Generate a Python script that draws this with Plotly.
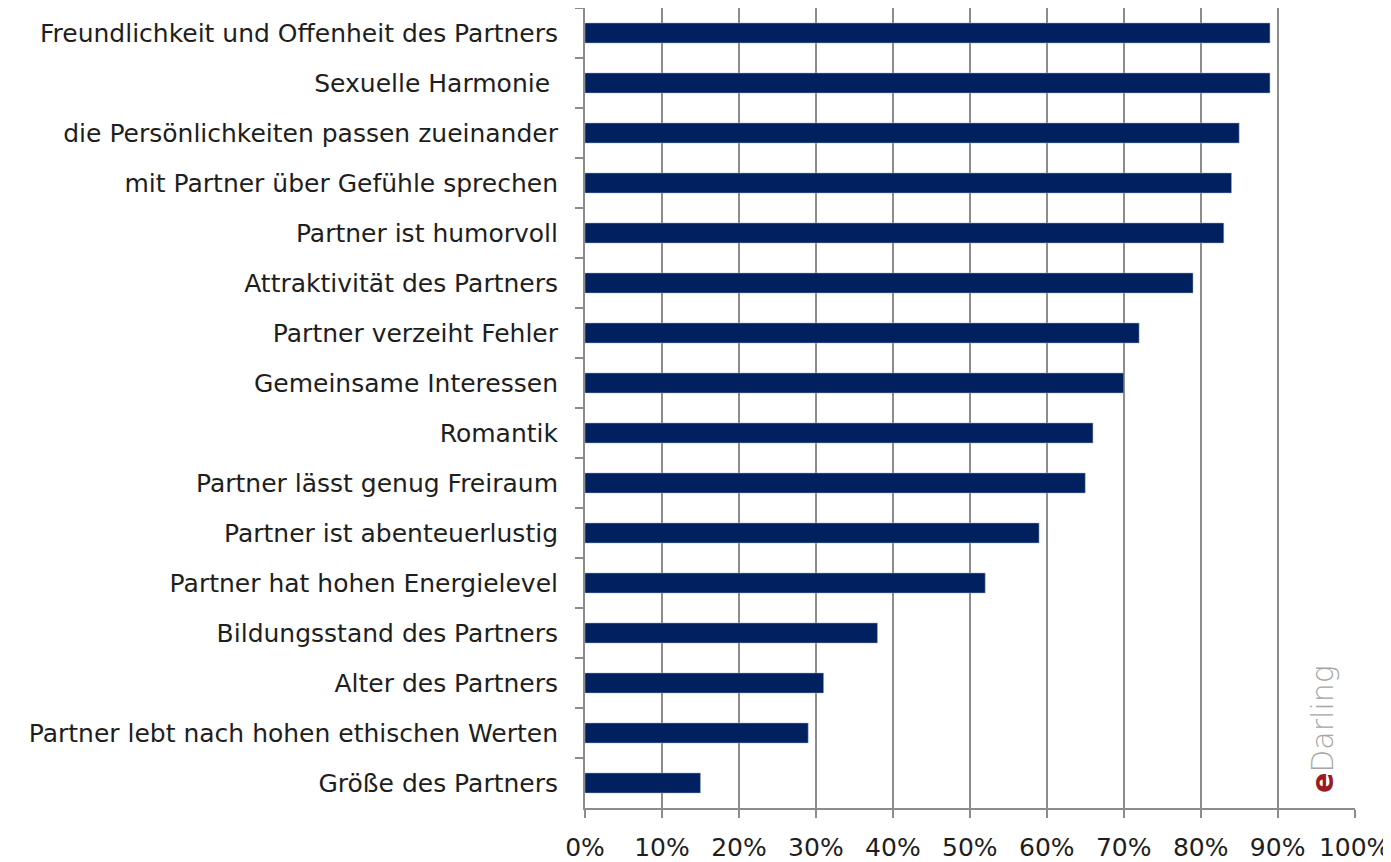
import plotly.graph_objects as go

categories = [
    "Freundlichkeit und Offenheit des Partners",
    "Sexuelle Harmonie ",
    "die Persönlichkeiten passen zueinander",
    "mit Partner über Gefühle sprechen",
    "Partner ist humorvoll",
    "Attraktivität des Partners",
    "Partner verzeiht Fehler",
    "Gemeinsame Interessen",
    "Romantik",
    "Partner lässt genug Freiraum",
    "Partner ist abenteuerlustig",
    "Partner hat hohen Energielevel",
    "Bildungsstand des Partners",
    "Alter des Partners",
    "Partner lebt nach hohen ethischen Werten",
    "Größe des Partners",
]
values = [0.89, 0.89, 0.85, 0.84, 0.83, 0.79, 0.72, 0.70, 0.66, 0.65, 0.59, 0.52, 0.38, 0.31, 0.29, 0.15]
x_ticks = [i / 10 for i in range(11)]
x_tick_labels = [f"{i*10}%" for i in range(11)]

FONT = "DejaVu Sans"
GRAY = "#8c8c8c"
TXT = "#1e1e1e"

fig = go.Figure(go.Bar(
    x=values, y=categories, orientation="h",
    marker=dict(color="#002060", line=dict(color="#9fb0d0", width=0.5)),
    width=0.4,
    hoverinfo="x+y",
))

fig.update_layout(
    width=1391, height=862,
    margin=dict(l=577, r=44, t=0, b=62),
    paper_bgcolor="white", plot_bgcolor="white",
    showlegend=False,
    font=dict(family=FONT, size=25, color=TXT),
    xaxis=dict(
        range=[0, 1.0005], tickvals=x_ticks, ticktext=x_tick_labels,
        showgrid=True, gridcolor=GRAY, gridwidth=2,
        showline=True, linecolor=GRAY, linewidth=2,
        ticks="outside", ticklen=8, tickcolor=GRAY, tickwidth=2,
        ticklabelstandoff=8, zeroline=False, automargin=False,
        ticklabeloverflow="allow",
        tickfont=dict(family=FONT, size=25, color=TXT),
        fixedrange=True,
    ),
    yaxis=dict(
        autorange="reversed", type="category",
        showline=True, linecolor=GRAY, linewidth=2,
        ticks="outside", ticklen=8, tickcolor=GRAY, tickwidth=2,
        tickson="boundaries", ticklabelstandoff=20,
        showgrid=False, automargin=False,
        tickfont=dict(family=FONT, size=25, color=TXT),
        fixedrange=True,
    ),
    annotations=[dict(
        x=0.957, y=0.016, xref="paper", yref="paper",
        xanchor="center", yanchor="bottom",
        text="<b><span style='color:#9b1c24'>e</span></b><span style='color:#a6a6a6'>Darling</span>",
        textangle=-90, showarrow=False,
        font=dict(family=FONT, size=30, weight=300),
    )],
)

fig.write_html("out.html")
